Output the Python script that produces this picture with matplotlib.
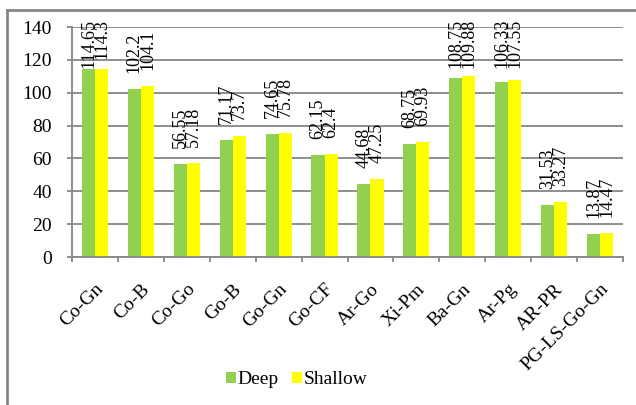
import matplotlib
matplotlib.use("Agg")
import matplotlib.pyplot as plt
import numpy as np
from matplotlib.lines import Line2D
from matplotlib.patches import Patch

categories = ["Co-Gn", "Co-B", "Co-Go", "Go-B", "Go-Gn", "Go-CF", "Ar-Go",
              "Xi-Pm", "Ba-Gn", "Ar-Pg", "AR-PR", "PG-LS-Go-Gn"]
deep = [114.65, 102.2, 56.55, 71.17, 74.65, 62.15, 44.68, 68.75, 108.75, 106.33, 31.53, 13.87]
shallow = [114.3, 104.1, 57.18, 73.7, 75.78, 62.4, 47.25, 69.93, 109.88, 107.55, 33.27, 14.47]

plt.rcParams["font.family"] = ["Liberation Serif", "DejaVu Serif"]

W, H = 636, 405
fig = plt.figure(figsize=(W / 100, H / 100), dpi=100)
ax = fig.add_axes([72 / W, 1 - 257 / H, (623 - 72) / W, (257 - 27) / H])

x = np.arange(len(categories))
bw = 0.285
green = "#92D050"
yellow = "#FFFF00"
grid_c = "#868686"
ax.bar(x - bw / 2, deep, bw, color=green, zorder=2)
ax.bar(x + bw / 2, shallow, bw, color=yellow, zorder=2)

ax.set_xlim(-0.5, len(categories) - 0.5)
ax.set_ylim(0, 140)
ax.set_yticks(range(0, 141, 20))
ax.yaxis.grid(True, color=grid_c, linewidth=1.3, zorder=0)
ax.set_axisbelow(True)

ax.set_xticks(np.arange(-0.5, len(categories), 1.0))
ax.set_xticklabels([])
ax.set_xticks(x, minor=True)
ax.set_xticklabels(categories, minor=True, rotation=45, ha="right",
                   rotation_mode="anchor", fontsize=14)
ax.tick_params(axis="x", which="major", length=3.6, color=grid_c, width=1.3)
ax.tick_params(axis="x", which="minor", length=0, pad=17)
ax.tick_params(axis="y", length=3.6, color=grid_c, width=1.3, labelsize=14, pad=11)

for side in ("top", "right"):
    ax.spines[side].set_visible(False)
for side in ("left", "bottom"):
    ax.spines[side].set_color(grid_c)
    ax.spines[side].set_linewidth(1.3)

# value labels, rotated, above each bar; pushed down when they would leave the chart
fig.canvas.draw()
renderer = fig.canvas.get_renderer()
top_limit = H - 19  # pixel row (from bottom) that labels may not cross
for xi, d, s in zip(x, deep, shallow):
    for xpos, val in ((xi - bw / 2, d), (xi + bw / 2, s)):
        t = ax.text(xpos, val, f"{val:g}", rotation=90, ha="center", va="bottom",
                    fontsize=13, color="black")
        px, py = ax.transData.transform((xpos, val))
        py += 16
        t.set_position(ax.transData.inverted().transform((px, py)))
        ext = t.get_window_extent(renderer)
        if ext.y1 > top_limit:
            py -= ext.y1 - top_limit
            t.set_position(ax.transData.inverted().transform((px, py)))
        t.set_clip_on(False)

handles = [Patch(facecolor=green, label="Deep"), Patch(facecolor=yellow, label="Shallow")]
fig.legend(handles=handles, loc="center", bbox_to_anchor=(297 / W, 1 - 380 / H),
           ncol=2, frameon=False, fontsize=14, handlelength=0.5, handleheight=0.5,
           handletextpad=0.1, columnspacing=0.7, borderpad=0)

# outer chart frame
fig.add_artist(Line2D([7 / W, 7 / W], [0, 1 - 10 / H], transform=fig.transFigure,
                      color=grid_c, linewidth=2))
fig.add_artist(Line2D([7 / W, 1], [1 - 10 / H, 1 - 10 / H], transform=fig.transFigure,
                      color=grid_c, linewidth=2))

fig.savefig("out.png", dpi=100)
